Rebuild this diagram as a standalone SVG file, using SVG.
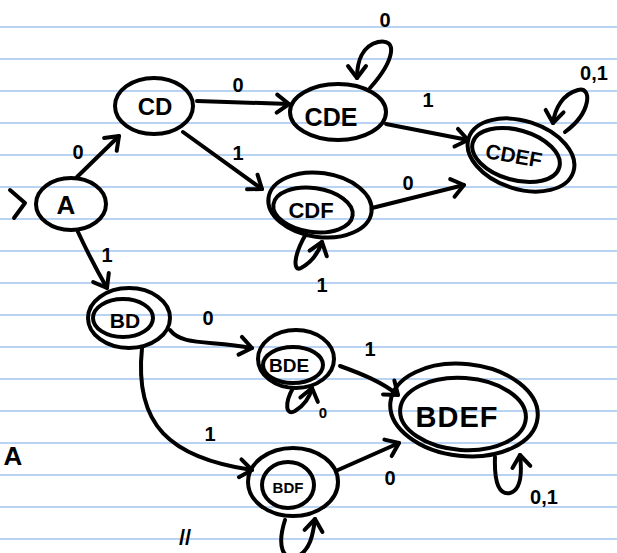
<svg xmlns="http://www.w3.org/2000/svg" width="617" height="553" viewBox="0 0 617 553">
<style>
.rule{stroke:#b9d3f3;stroke-width:2}
.n{fill:none;stroke:#000;stroke-width:4}
.t{font-family:"Liberation Sans",Arial,sans-serif;fill:#000;text-anchor:middle;font-weight:bold}
.lbl{font-family:"Liberation Sans",Arial,sans-serif;fill:#000;text-anchor:middle;font-size:20px;font-weight:bold}
.e{fill:none;stroke:#000;stroke-width:4;stroke-linecap:round;stroke-linejoin:round;marker-end:url(#ah)}
</style>
<defs>
<marker id="ah" markerUnits="userSpaceOnUse" markerWidth="30" markerHeight="30" refX="0" refY="0" viewBox="-15 -15 30 30" orient="auto">
<path d="M-12,-9 L0,0 L-12,9" fill="none" stroke="#000" stroke-width="4" stroke-linecap="round" stroke-linejoin="round"/>
</marker>
</defs>
<rect width="617" height="553" fill="#fff"/>
<g id="paper">
<line class="rule" x1="0" y1="27" x2="617" y2="27"/>
<line class="rule" x1="0" y1="59" x2="617" y2="59"/>
<line class="rule" x1="0" y1="91" x2="617" y2="91"/>
<line class="rule" x1="0" y1="123" x2="617" y2="123"/>
<line class="rule" x1="0" y1="155" x2="617" y2="155"/>
<line class="rule" x1="0" y1="187" x2="617" y2="187"/>
<line class="rule" x1="0" y1="219" x2="617" y2="219"/>
<line class="rule" x1="0" y1="251" x2="617" y2="251"/>
<line class="rule" x1="0" y1="283" x2="617" y2="283"/>
<line class="rule" x1="0" y1="315" x2="617" y2="315"/>
<line class="rule" x1="0" y1="347" x2="617" y2="347"/>
<line class="rule" x1="0" y1="379" x2="617" y2="379"/>
<line class="rule" x1="0" y1="411" x2="617" y2="411"/>
<line class="rule" x1="0" y1="443" x2="617" y2="443"/>
<line class="rule" x1="0" y1="475" x2="617" y2="475"/>
<line class="rule" x1="0" y1="507" x2="617" y2="507"/>
<line class="rule" x1="0" y1="539" x2="617" y2="539"/>
</g>
<g id="connectors">
<path d="M10,190 L25,203 L14,218" fill="none" stroke="#000" stroke-width="4" stroke-linecap="round" stroke-linejoin="round"/>
<path class="e" d="M77,177 L119,136"/>
<path class="e" d="M78,232 Q92,262 107,288"/>
<path class="e" d="M197,101 L289,104"/>
<path class="e" d="M183,132 L262,189"/>
<path class="e" d="M386,124 L468,140"/>
<path class="e" d="M372,208 L464,185"/>
<path class="e" d="M370,88 C395,60 398,38 378,42 C362,46 357,62 357,78"/>
<path class="e" d="M565,132 C592,112 592,86 578,90 C563,94 555,108 553,123"/>
<path class="e" d="M306,234 C293,256 293,272 301,268 C312,262 318,254 322,242"/>
<path class="e" d="M170,330 C182,346 210,340 252,348"/>
<path class="e" d="M142,348 C134,425 170,458 252,470"/>
<path class="e" d="M340,366 C362,374 382,382 398,395"/>
<path class="e" d="M338,470 L399,443"/>
<path class="e" d="M293,388 C284,404 286,416 295,411 C305,405 310,396 312,388"/>
<path class="e" d="M495,457 C494,485 500,495 510,493 C521,490 522,472 520,455"/>
<path class="e" d="M285,520 C277,545 282,562 298,556 C310,550 313,535 315,519"/>
<text class="lbl" x="78" y="159">0</text>
<text class="lbl" x="107" y="262">1</text>
<text class="lbl" x="238" y="92">0</text>
<text class="lbl" x="238" y="160">1</text>
<text class="lbl" x="385" y="27">0</text>
<text class="lbl" x="428" y="107">1</text>
<text class="lbl" x="408" y="190">0</text>
<text class="lbl" x="594" y="80">0,1</text>
<text class="lbl" x="322" y="292">1</text>
<text class="lbl" x="208" y="325">0</text>
<text class="lbl" x="370" y="356">1</text>
<text class="lbl" x="323" y="418" style="font-size:15px">0</text>
<text class="lbl" x="210" y="441">1</text>
<text class="lbl" x="390" y="485">0</text>
<text class="lbl" x="544" y="504">0,1</text>
</g>
<g id="A">
<ellipse class="n" cx="71" cy="204" rx="35" ry="26"/>
<text class="t" x="66" y="214" font-size="26">A</text>
</g>
<g id="CD">
<ellipse class="n" cx="154" cy="106" rx="39" ry="28"/>
<text class="t" x="155" y="115" font-size="24">CD</text>
</g>
<g id="CDE">
<ellipse class="n" cx="338" cy="112" rx="48" ry="28"/>
<text class="t" x="331" y="126" font-size="25">CDE</text>
</g>
<g id="CDEF">
<ellipse class="n" cx="521" cy="155" rx="55" ry="34" transform="rotate(18 521 155)"/>
<ellipse class="n" cx="516" cy="155" rx="45" ry="25" transform="rotate(16 516 155)"/>
<text class="t" x="514" y="163" font-size="21" transform="rotate(10 514 155)">CDEF</text>
</g>
<g id="CDF">
<ellipse class="n" cx="320" cy="205" rx="52" ry="32" transform="rotate(8 320 205)"/>
<ellipse class="n" cx="313" cy="210" rx="40" ry="22" transform="rotate(8 313 210)"/>
<text class="t" x="311" y="218" font-size="22">CDF</text>
</g>
<g id="BD">
<ellipse class="n" cx="129" cy="318" rx="41" ry="30"/>
<ellipse class="n" cx="123" cy="318" rx="30" ry="19"/>
<text class="t" x="125" y="328" font-size="21">BD</text>
</g>
<g id="BDE">
<ellipse class="n" cx="296" cy="359" rx="38" ry="29"/>
<ellipse class="n" cx="293" cy="365" rx="30" ry="18"/>
<text class="t" x="289" y="372" font-size="19">BDE</text>
</g>
<g id="BDF">
<ellipse class="n" cx="293" cy="482" rx="45" ry="34"/>
<ellipse class="n" cx="288" cy="485" rx="26" ry="23"/>
<text class="t" x="288" y="493" font-size="15">BDF</text>
</g>
<g id="BDEF">
<ellipse class="n" cx="464" cy="410" rx="74" ry="46" transform="rotate(6 464 410)"/>
<ellipse class="n" cx="463" cy="414" rx="63" ry="36" transform="rotate(4 463 414)"/>
<text class="t" x="457" y="427" font-size="29" letter-spacing="1">BDEF</text>
</g>
<g id="notes">
<text class="t" x="13" y="465" font-size="26">A</text>
<text class="t" x="185" y="545" font-size="22">//</text>
</g>
</svg>
